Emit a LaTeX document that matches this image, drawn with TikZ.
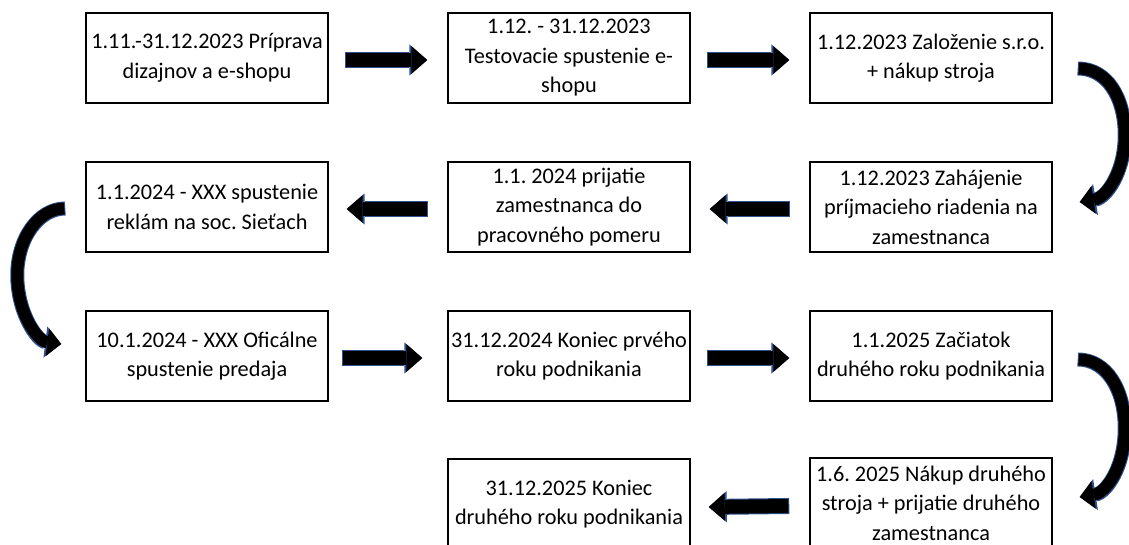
\documentclass[tikz,border=0pt]{standalone}
\usepackage{fontspec}
\setmainfont{Carlito}
\usetikzlibrary{arrows.meta,calc}
\definecolor{arrowblue}{RGB}{47,82,143}
\frenchspacing

\tikzset{
	box/.style={draw=black, line width=1.1pt, minimum width=181.5pt, minimum height=67.5pt, inner xsep=1pt, align=center, font=\fontsize{16.7}{22.1}\selectfont},
	blockarr/.style={line width=10.5pt, -{Triangle[width=21pt,length=12pt,line width=0pt]},
		preaction={draw=arrowblue, line width=12pt, shorten <=-0.75pt, -{Triangle[width=23.5pt,length=13.5pt,line width=0pt]}}},
	curvearr/.style={line width=9pt, -{Triangle[width=21pt,length=10.5pt,line width=0pt]},
		preaction={draw=arrowblue, line width=10.5pt, shorten <=-0.75pt, -{Triangle[width=23.5pt,length=12pt,line width=0pt]}}},
}

\begin{document}
\begin{tikzpicture}[x=0.75pt,y=0.75pt,yscale=-1,xscale=1]
	\useasboundingbox (0,0) rectangle (1129,545);
	
	% Text Node
	\node[box] (b1) at (207,58) {1.11.-31.12.2023 Príprava\\dizajnov a e-shopu};
	\node[box] (b2) at (569,58) {1.12. - 31.12.2023\\Testovacie spustenie e-\\shopu};
	\node[box] (b3) at (931,58) {1.12.2023 Založenie s.r.o.\\+ nákup stroja};
	% Text Node
	\node[box] (b4) at (207,207) {1.1.2024 - XXX spustenie\\reklám na soc. Sieťach};
	\node[box] (b5) at (569,207) {1.1. 2024 prijatie\\zamestnanca do\\pracovného pomeru};
	\node[box] (b6) at (931,207) {1.12.2023 Zahájenie\\príjmacieho riadenia na\\zamestnanca};
	% Text Node
	\node[box] (b7) at (207,356) {10.1.2024 - XXX Oficálne\\spustenie predaja};
	\node[box] (b8) at (569,356) {31.12.2024 Koniec prvého\\roku podnikania};
	\node[box] (b9) at (931,356) {1.1.2025 Začiatok\\druhého roku podnikania};
	% Text Node
	\node[box] (b10) at (569,504) {31.12.2025 Koniec\\druhého roku podnikania};
	\node[box] (b11) at (931,503) {1.6. 2025 Nákup druhého\\stroja + prijatie druhého\\zamestnanca};
	
	%Shape: Right Arrow
	\draw[blockarr] ($(b1.east)+(17,2)$) -- ($(b2.west)+(-20,2)$);
	\draw[blockarr] ($(b2.east)+(17,2)$) -- ($(b3.west)+(-20,2)$);
	%Shape: Left Arrow
	\draw[blockarr] ($(b6.west)+(-20,2)$) -- ($(b5.east)+(19,2)$);
	\draw[blockarr] ($(b5.west)+(-20,2)$) -- ($(b4.east)+(18,2)$);
	%Shape: Right Arrow
	\draw[blockarr] ($(b7.east)+(14,2)$) -- ($(b8.west)+(-25,2)$);
	\draw[blockarr] ($(b8.east)+(17,2)$) -- ($(b9.west)+(-20,2)$);
	%Shape: Left Arrow
	\draw[blockarr] ($(b11.west)+(-21,3)$) -- ($(b10.east)+(18,3)$);
	
	%Shape: Curved Arrow
	\draw[curvearr] ($(b3.east)+(26,10.5)$) .. controls +(28,0) and +(0,-38) .. ($(b3.east)+(72,77)$) .. controls +(0,38) and +(26,-4) .. ($(b6.east)+(27,-5)$);
	\draw[curvearr] ($(b4.west)+(-21,1.5)$) .. controls +(-26,0) and +(0,-36) .. ($(b4.west)+(-68,68)$) .. controls +(0,38) and +(-24,-3) .. ($(b7.west)+(-24,-12)$);
	\draw[curvearr] ($(b9.east)+(26,3.5)$) .. controls +(28,0) and +(0,-38) .. ($(b9.east)+(72,72)$) .. controls +(0,40) and +(26,-4) .. ($(b11.east)+(27,-6)$);
	
\end{tikzpicture}
\end{document}
